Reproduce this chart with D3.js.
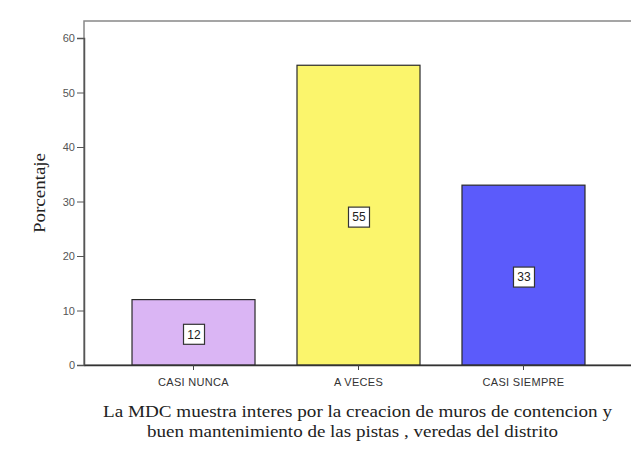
<!DOCTYPE html>
<html>
<head>
<meta charset="utf-8">
<script src="https://cdn.jsdelivr.net/npm/d3@7"></script>
<style>
  html, body { margin: 0; padding: 0; background: #fff; }
  svg { display: block; }
</style>
</head>
<body>
<svg id="chart" width="631" height="456"></svg>
<script>
// Response categories and their percentages
const categories = ["CASI NUNCA", "A VECES", "CASI SIEMPRE"];
const percentages = [12, 55, 33];
const barColors = ["#dab5f4", "#fbf56c", "#5b5bfb"];
const yTicks = [0, 10, 20, 30, 40, 50, 60];
const yLabel = "Porcentaje";
const xTitleLines = [
  "La MDC muestra interes por la creacion de muros de contencion  y",
  "buen mantenimiento de las pistas , veredas del distrito"
];

const svg = d3.select("#chart");
const frame = { left: 84, top: 21, right: 633, bottom: 365 };
const sans = "Arial, 'Liberation Sans', sans-serif";
const serif = "'Times New Roman', 'Liberation Serif', serif";

const x = d3.scaleBand()
  .domain(categories)
  .range([frame.left, frame.right])
  .paddingInner(0.2545)
  .paddingOuter(0.291);

const y = d3.scaleLinear()
  .domain([0, 60])
  .range([frame.bottom, frame.bottom - 327]);

// plot frame (right edge falls outside the canvas)
svg.append("rect")
  .attr("x", frame.left)
  .attr("y", frame.top)
  .attr("width", frame.right - frame.left + 10)
  .attr("height", frame.bottom - frame.top)
  .attr("fill", "none")
  .attr("stroke", "#888")
  .attr("stroke-width", 1.5);

// bars
svg.append("g").selectAll("rect")
  .data(categories)
  .join("rect")
  .attr("x", d => x(d))
  .attr("y", (d, i) => y(percentages[i]))
  .attr("width", x.bandwidth())
  .attr("height", (d, i) => y(0) - y(percentages[i]))
  .attr("fill", (d, i) => barColors[i])
  .attr("stroke", "#2a2a2a")
  .attr("stroke-width", 1.2);

// y axis
const yAxis = svg.append("g")
  .attr("transform", `translate(${frame.left},0)`)
  .call(d3.axisLeft(y).tickValues(yTicks).tickSize(7).tickPadding(2));
yAxis.select(".domain").attr("stroke", "#555").attr("stroke-width", 1.5);
yAxis.selectAll(".tick line").attr("stroke", "#555");
yAxis.selectAll(".tick text")
  .attr("fill", "#555")
  .style("font-family", sans)
  .style("font-size", "11px");

// x axis
const xAxis = svg.append("g")
  .attr("transform", `translate(0,${frame.bottom})`)
  .call(d3.axisBottom(x).tickSize(5).tickPadding(8).tickSizeOuter(0));
xAxis.select(".domain").attr("stroke", "#333").attr("stroke-width", 1.5);
xAxis.selectAll(".tick line").attr("stroke", "#444");
xAxis.selectAll(".tick text")
  .attr("fill", "#333")
  .style("font-family", sans)
  .style("font-size", "11px")
  .style("letter-spacing", "0.3px");

// value labels in small boxes at mid-bar
const lbl = svg.append("g").selectAll("g")
  .data(categories)
  .join("g")
  .attr("transform", (d, i) =>
    `translate(${x(d) + x.bandwidth() / 2},${(y(0) + y(percentages[i])) / 2 + 2})`);
lbl.append("rect")
  .attr("x", -10).attr("y", -10)
  .attr("width", 21).attr("height", 20)
  .attr("fill", "#fff")
  .attr("stroke", "#333")
  .attr("stroke-width", 1.2);
lbl.append("text")
  .attr("text-anchor", "middle")
  .attr("dy", "0.35em")
  .attr("x", 0.5)
  .attr("fill", "#222")
  .style("font-family", sans)
  .style("font-size", "12px")
  .text((d, i) => percentages[i]);

// y axis title
svg.append("text")
  .attr("transform", `translate(45,193) rotate(-90)`)
  .attr("text-anchor", "middle")
  .attr("fill", "#222")
  .attr("textLength", 80)
  .attr("lengthAdjust", "spacingAndGlyphs")
  .style("font-family", serif)
  .style("font-size", "16px")
  .text(yLabel);

// x axis title, two lines
const titleSpans = [
  { x: 103, y: 417, len: 509 },
  { x: 147, y: 437, len: 411 }
];
const xTitle = svg.append("text")
  .attr("fill", "#222")
  .style("font-family", serif)
  .style("font-size", "16px");
xTitleLines.forEach((line, i) => {
  xTitle.append("tspan")
    .attr("x", titleSpans[i].x)
    .attr("y", titleSpans[i].y)
    .attr("textLength", titleSpans[i].len)
    .attr("lengthAdjust", "spacingAndGlyphs")
    .text(line);
});
</script>
</body>
</html>
